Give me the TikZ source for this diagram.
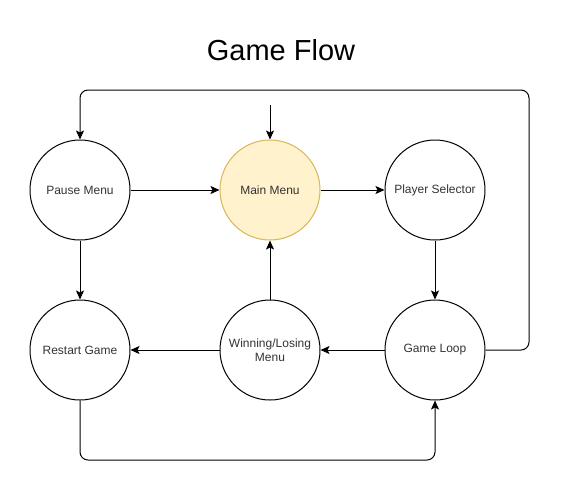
\documentclass[tikz,border=0pt]{standalone}
\usepackage{fontspec}
\setmainfont{Liberation Sans}
\usetikzlibrary{arrows.meta}
\definecolor{menufill}{HTML}{FFF2CC}
\definecolor{menuline}{HTML}{D6B656}
\definecolor{labeltext}{HTML}{333333}
\begin{document}
\begin{tikzpicture}[x=1pt, y=-1pt,
    state/.style={circle, draw=black, line width=1pt, minimum size=100pt, inner sep=0pt, align=center, font=\fontsize{12}{14}\selectfont, text=labeltext},
    flow/.style={-{Stealth[length=9pt,width=8pt,inset=2pt]}, line width=1pt, rounded corners=8pt}]
        \useasboundingbox (0,0) rectangle (569,499);
        \node[font=\fontsize{29}{33}\selectfont] (title) at (281,50) {Game Flow};
        \node[state] (pause) at (80,190) {Pause Menu};
        \node[state, fill=menufill, draw=menuline] (main) at (270,190) {Main Menu};
        \node[state] (player) at (435,190) {Player Selector};
        \node[state] (restart) at (80,350) {Restart Game};
        \node[state] (winlose) at (270,350) {Winning/Losing\\Menu};
        \node[state] (loop) at (435,350) {Game Loop};
        \coordinate (start) at (270,105);
        \draw[flow] (start) -- (main);
        \draw[flow] (pause) -- (main);
        \draw[flow] (main) -- (player);
        \draw[flow] (player) -- (loop);
        \draw[flow] (loop) -- (winlose);
        \draw[flow] (winlose) -- (restart);
        \draw[flow] (winlose) -- (main);
        \draw[flow] (pause) -- (restart);
        \draw[flow] (loop.east) -- (529,350) -- (529,90) -- (80,90) -- (pause.north);
        \draw[flow] (restart.south) -- (80,460) -- (435,460) -- (loop.south);
    \end{tikzpicture}
\end{document}
